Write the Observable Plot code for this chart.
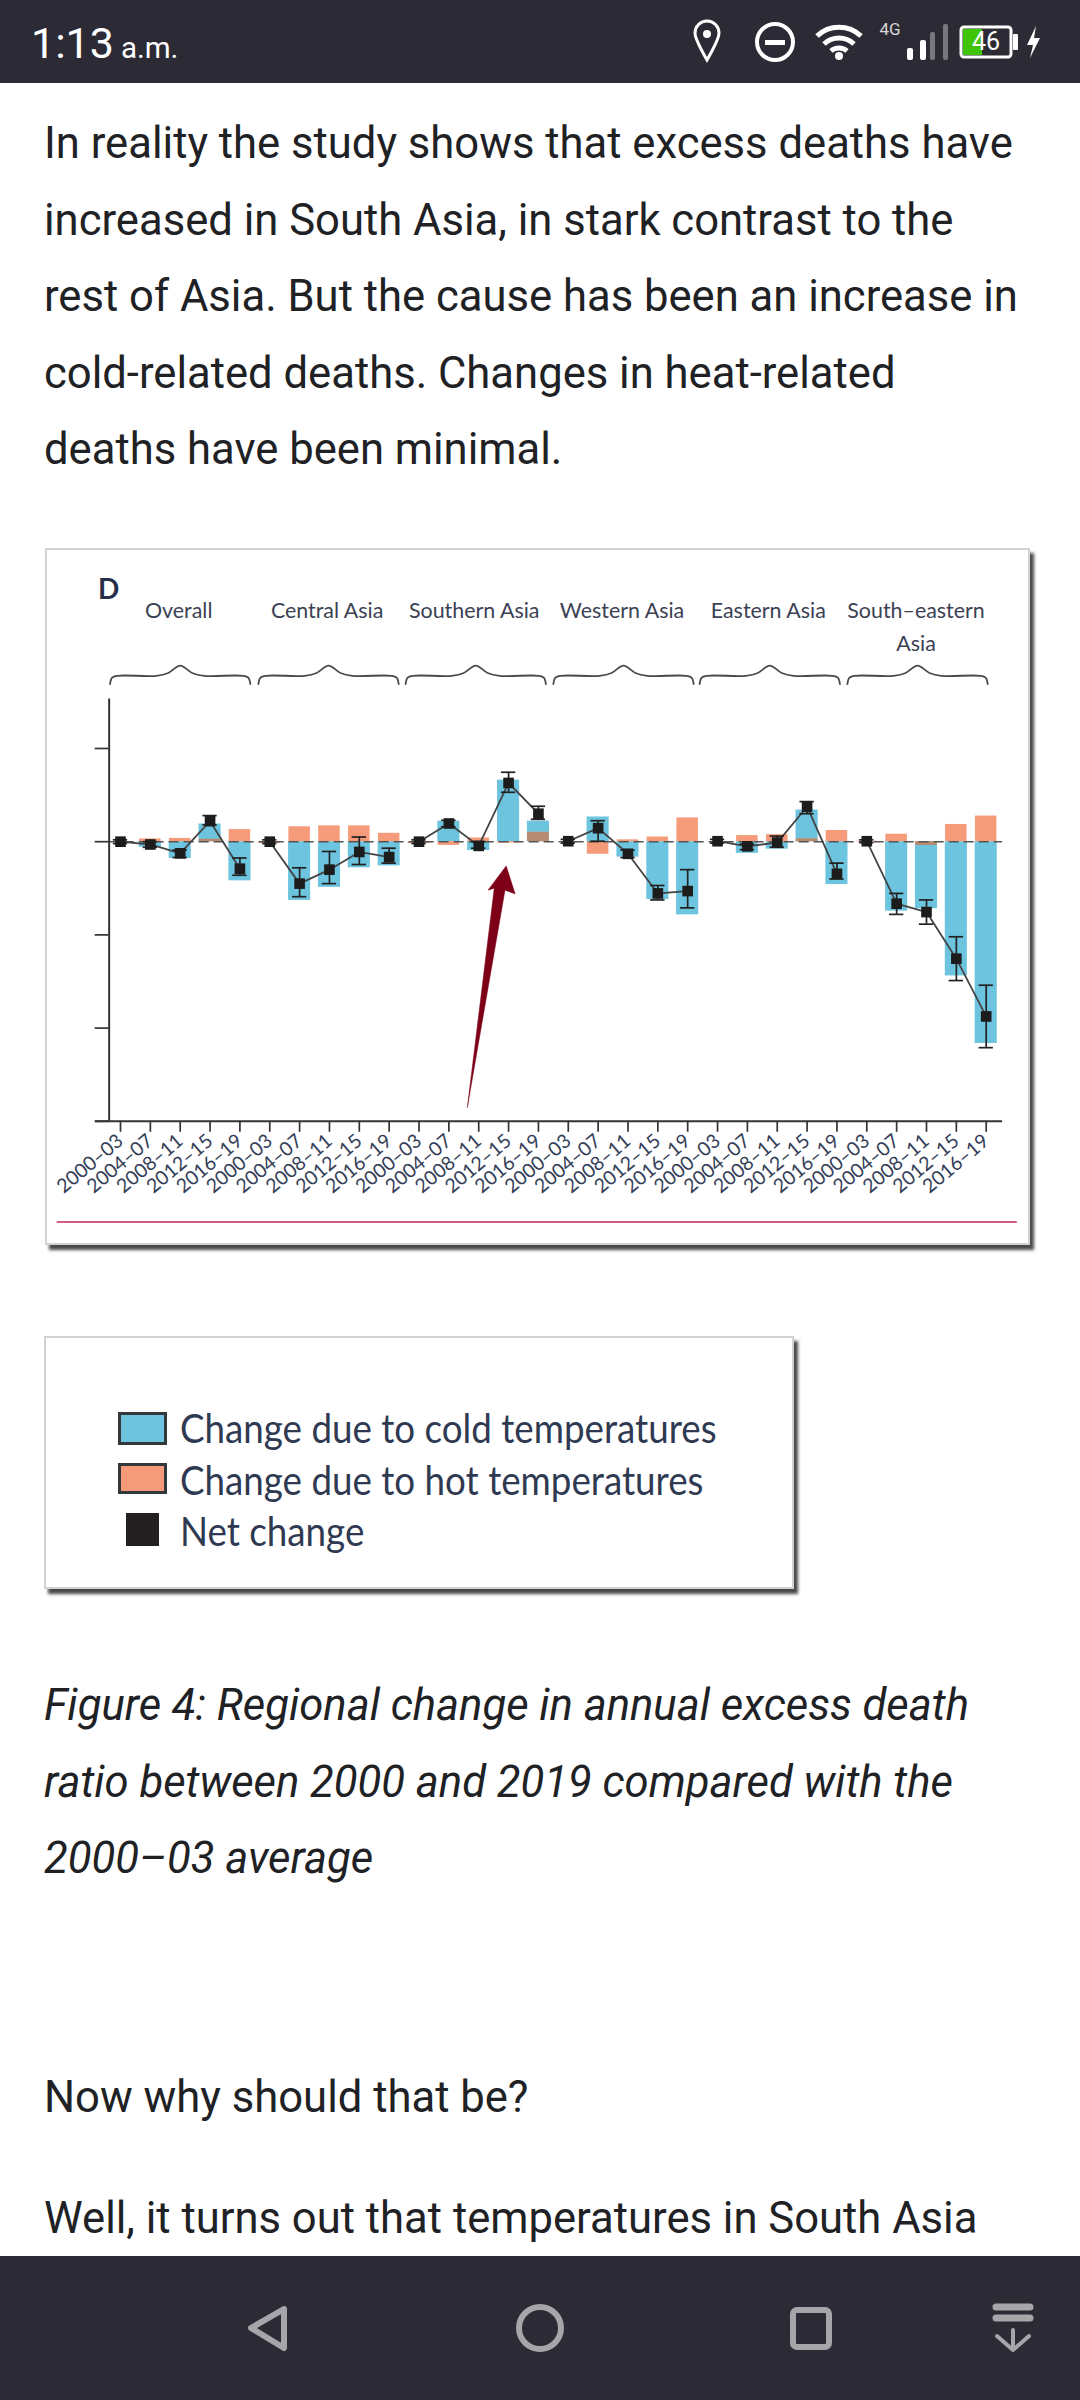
<!DOCTYPE html>
<html><head><meta charset="utf-8">
<script src="https://cdn.jsdelivr.net/npm/d3@7"></script>
<script src="https://cdn.jsdelivr.net/npm/@observablehq/plot@0.6"></script>
<style>
html,body{margin:0;padding:0;background:#fff;width:1080px;height:2400px;overflow:hidden}
body{position:relative;font-family:Roboto,sans-serif;color:#1d1d1f}
.abs{position:absolute}
.p{position:absolute;left:44px;font-size:43.6px;line-height:76.5px;white-space:nowrap;color:#202124}
.bar{position:absolute;left:0;width:1080px;background:#2c2b35}
.card{position:absolute;background:#fff;border:2px solid #d2d2d2;box-sizing:border-box;box-shadow:4px 5px 3px #4a4a4a}
.lg{position:absolute;left:180px;font-family:Lato,sans-serif;font-size:41px;color:#2f3a52;white-space:nowrap;transform-origin:0 50%;line-height:44px}
.sw{position:absolute;box-sizing:border-box;border:3px solid #33383d}
</style></head><body>
<div class="bar" style="top:0;height:83px"></div>
<div class="abs" style="left:31px;top:18px;color:#fff;font-size:43px;line-height:50px">1:13<span style="font-size:29.5px;margin-left:7px">a.m.</span></div>
<svg class="abs" style="left:0;top:0" width="1080" height="83" fill="none" stroke="#fff" stroke-width="4">
<path d="M707 60 C699 46 695 38 695 33 A12 12 0 0 1 719 33 C719 38 715 46 707 60Z" stroke-width="3"/><circle cx="707" cy="34" r="4" fill="#fff" stroke="none"/>
<circle cx="775" cy="42" r="18"/><rect x="765" y="40" width="20" height="5" fill="#fff" stroke="none"/>
<path d="M817 36 A32 32 0 0 1 861 36" stroke-width="5"/><path d="M824 44 A22 22 0 0 1 854 44" stroke-width="5"/><path d="M831 51 A12 12 0 0 1 847 51" stroke-width="5"/><circle cx="839" cy="56" r="4" fill="#fff" stroke="none"/>
<rect x="907" y="48" width="6" height="12" rx="2" fill="#fff" stroke="none"/><rect x="920" y="40" width="6" height="20" rx="2" fill="#fff" stroke="none"/><rect x="930" y="32" width="5" height="28" rx="2" fill="#77777d" stroke="none"/><rect x="943" y="24" width="5" height="36" rx="2" fill="#77777d" stroke="none"/>
<rect x="961" y="27" width="50" height="30" rx="3" stroke-width="3"/><rect x="963" y="29" width="19" height="26" fill="#3fc40a" stroke="none"/><rect x="1013" y="34" width="5" height="16" rx="1" fill="#fff" stroke="none"/>
<path d="M1036 26 L1027 45 L1033 45 L1030 58 L1040 38 L1034 38Z" fill="#fff" stroke="none"/>
<text x="890" y="35" fill="#d8d8d8" stroke="none" font-family="Roboto" font-size="17" text-anchor="middle">4G</text>
<text x="986" y="50" fill="#fff" stroke="none" font-family="Roboto" font-size="25" text-anchor="middle">46</text>
</svg>

<div class="p" style="top:106px">In reality the study shows that excess deaths have<br>increased in South Asia, in stark contrast to the<br>rest of Asia. But the cause has been an increase in<br>cold-related deaths. Changes in heat-related<br>deaths have been minimal.</div>

<div class="card" style="left:45px;top:548px;width:985px;height:697px"></div>
<div id="chart" class="abs" style="left:45px;top:548px"></div>

<div class="card" style="left:44px;top:1336px;width:750px;height:253px"></div>
<div class="sw" style="left:118px;top:1412px;width:49px;height:33px;background:#6cc4de"></div>
<div class="sw" style="left:118px;top:1463px;width:49px;height:31px;background:#f59b7a"></div>
<div class="sw" style="left:126px;top:1513px;width:33px;height:33px;background:#231f20;border:0"></div>
<div class="lg" style="top:1406px;transform:scaleX(.896)">Change due to cold temperatures</div>
<div class="lg" style="top:1458px;transform:scaleX(.896)">Change due to hot temperatures</div>
<div class="lg" style="top:1509px;transform:scaleX(.896)">Net change</div>

<div class="p" style="top:1668px;font-style:italic">Figure 4: Regional change in annual excess death<br>ratio between 2000 and 2019 compared with the<br>2000–03 average</div>
<div class="p" style="top:2060px">Now why should that be?</div>
<div class="p" style="top:2181px">Well, it turns out that temperatures in South Asia</div>

<div class="bar" style="top:2256px;height:144px"></div>
<svg class="abs" style="left:0;top:2256px" width="1080" height="144" fill="none" stroke="#a6a6aa" stroke-width="6" stroke-linejoin="round" stroke-linecap="round">
<path d="M284 53 L251 72 L284 92Z"/>
<circle cx="540" cy="72" r="21"/>
<rect x="793" y="54" width="36" height="37" rx="4"/>
<path d="M996 51 H1030 M996 62 H1030" stroke-width="7"/>
<path d="M1013 74 V94 M997 80 L1013 94 L1029 80" stroke-width="4"/>
</svg>

<script>
const periods = ["2000–03","2004–07","2008–11","2012–15","2016–19"];
const groups = ["Overall","Central Asia","Southern Asia","Western Asia","Eastern Asia","South–eastern\nAsia"];
const groupCentres = [2.0,6.97,11.9,16.85,21.75,26.7];
const cold = [0,-0.06,-0.18,0.19,-0.42, 0,-0.63,-0.49,-0.28,-0.26, 0,0.22,-0.095,0.66,0.22, 0,0.265,-0.165,-0.62,-0.785, 0,-0.125,-0.08,0.34,-0.46, 0,-0.745,-0.72,-1.44,-2.165];
const hot = [-0.01,0.03,0.035,0.025,0.13, -0.02,0.16,0.17,0.17,0.09, -0.02,-0.04,0.04,-0.015,0.1, 0,-0.135,0.02,0.05,0.255, 0,0.065,0.075,0.03,0.12, 0.005,0.08,-0.04,0.185,0.275];
const net = [0,-0.03,-0.125,0.22,-0.29, 0,-0.45,-0.30,-0.11,-0.165, 0,0.195,-0.045,0.63,0.30, 0.005,0.145,-0.13,-0.555,-0.53, 0.005,-0.05,-0.01,0.375,-0.345, 0.005,-0.665,-0.755,-1.255,-1.875];
const errHi = [0.02,0,-0.09,0.28,-0.175, 0.02,-0.28,-0.105,0.05,-0.07, 0.02,0.23,0,0.745,0.38, 0.025,0.225,-0.09,-0.47,-0.30, 0.025,-0.025,0.06,0.43,-0.23, 0.02,-0.555,-0.625,-1.02,-1.54];
const errLo = [-0.02,-0.06,-0.17,0.18,-0.36, -0.02,-0.59,-0.45,-0.245,-0.23, -0.02,0.16,-0.07,0.53,0.24, -0.015,0.005,-0.17,-0.625,-0.71, -0.015,-0.085,-0.06,0.30,-0.40, -0.01,-0.78,-0.885,-1.49,-2.21];
const braceDx = [-2.35,-2.28,-2.1,-0.8,-0.4,0,0.4,0.8,2.1,2.28,2.35];
const braceY = [1.69,1.76,1.78,1.78,1.81,1.89,1.81,1.78,1.78,1.76,1.69];
const arrowX = [11.62,12.52,12.31,12.92,13.22,12.88,11.62];
const arrowY = [-2.85,-0.50,-0.52,-0.26,-0.56,-0.52,-2.85];
const yTicks = [1,0,-1,-2,-3];

const rows = cold.map((c,i)=>({i, g:Math.floor(i/5), cold:c, hot:hot[i], net:net[i], hi:errHi[i], lo:errLo[i]}));
const overlap = rows.filter(d=>d.cold*d.hot>0).map(d=>({i:d.i, v:Math.sign(d.cold)*Math.min(Math.abs(d.cold),Math.abs(d.hot))}));
const braces = groupCentres.flatMap((c,g)=>braceDx.map((dx,k)=>({g, x:c+dx, y:braceY[k]})));
const labelRows = groups.map((t,k)=>({t, x:groupCentres[k]-0.05}));
const arrowRows = arrowX.map((x,k)=>({x, y:arrowY[k]}));
const ink = "#333";

const chart = Plot.plot({
  width:985, height:697, marginLeft:63.7, marginBottom:124.2, marginTop:0, marginRight:0,
  style:{fontFamily:"Lato, sans-serif", background:"transparent", overflow:"visible"},
  x:{type:"linear", domain:[0,29], range:[75,940.7]},
  y:{domain:[-3,1.532], range:[572.8,150.4]},
  marks:[
    Plot.rect(rows,{x1:d=>d.i-0.37, x2:d=>d.i+0.37, y1:0, y2:"cold", fill:"#6cc4de"}),
    Plot.rect(rows,{x1:d=>d.i-0.36, x2:d=>d.i+0.36, y1:0, y2:"hot", fill:"#f59b7a"}),
    Plot.rect(overlap,{x1:d=>d.i-0.36, x2:d=>d.i+0.36, y1:0, y2:"v", fill:"#b58c72"}),
    Plot.ruleY([0],{x1:-0.38, x2:29.55, stroke:"#555", strokeWidth:1.5, strokeDasharray:"10 5"}),
    Plot.line(rows,{x:"i", y:"net", z:"g", stroke:"#444", strokeWidth:1.8}),
    Plot.ruleX(rows,{x:"i", y1:"lo", y2:"hi", stroke:"#222", strokeWidth:1.7}),
    Plot.ruleY(rows,{y:"hi", x1:d=>d.i-0.24, x2:d=>d.i+0.24, stroke:"#222", strokeWidth:1.7}),
    Plot.ruleY(rows,{y:"lo", x1:d=>d.i-0.24, x2:d=>d.i+0.24, stroke:"#222", strokeWidth:1.7}),
    Plot.dot(rows,{x:"i", y:"net", symbol:"square", r:6, fill:"#1c1c1c"}),
    Plot.ruleX([-0.38],{y1:-3, y2:1.532, stroke:ink, strokeWidth:2}),
    Plot.ruleY([-3],{x1:-0.84, x2:29.55, stroke:ink, strokeWidth:2}),
    Plot.axisY(yTicks,{anchor:"left", tickSize:14, tickFormat:()=>"", label:null, stroke:ink, strokeWidth:1.7}),
    Plot.axisX(d3.range(30),{anchor:"bottom", tickSize:11, tickPadding:6, tickRotate:-40, fontSize:19.5, tickFormat:i=>periods[i%5], label:null, stroke:ink, strokeWidth:1.7, fill:"#343e58"}),
    Plot.line(braces,{x:"x", y:"y", z:"g", curve:"catmull-rom", stroke:"#4a4a4a", strokeWidth:1.8}),
    Plot.text(labelRows,{x:"x", y:2.64, text:"t", lineAnchor:"top", lineHeight:1.5, fontSize:21.4, fill:"#3b4154"}),
    Plot.text(["D"],{x:-0.4, y:2.695, fontSize:28, fontWeight:700, fill:"#26304a"}),
    Plot.line(arrowRows,{x:"x", y:"y", fill:"#7d0018", stroke:"#7d0018", strokeWidth:0.5}),
    Plot.ruleY([-4.08],{x1:-2.12, x2:30.04, stroke:"#c0245a", strokeWidth:1.6})
  ]
});
document.getElementById("chart").appendChild(chart);
</script>
</body></html>
